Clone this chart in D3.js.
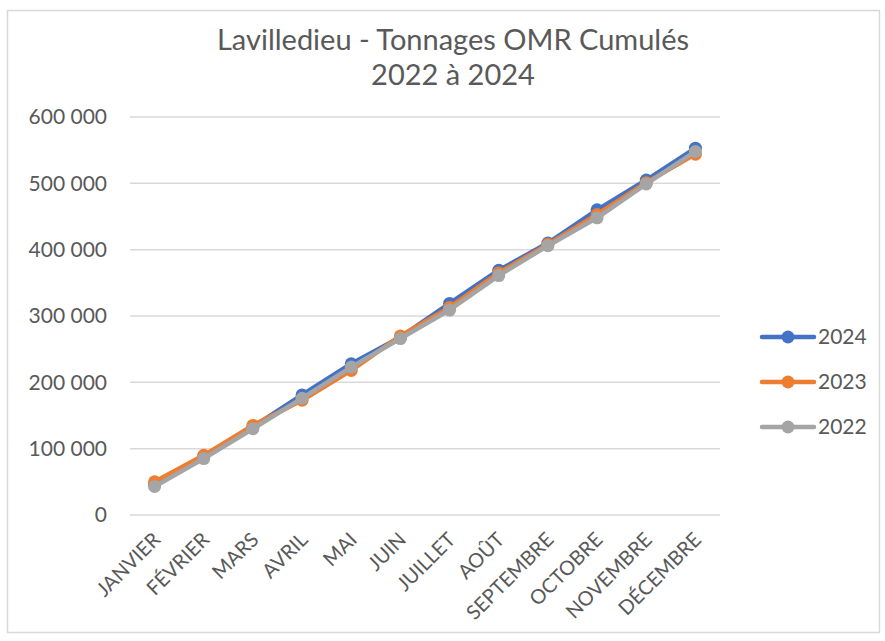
<!DOCTYPE html>
<html><head><meta charset="utf-8">
<script src="https://cdn.jsdelivr.net/npm/d3@7"></script>
<style>body{margin:0;background:#fff}svg{display:block}text{font-family:Lato,"Open Sans",sans-serif;fill:#595959}</style>
</head><body><svg id="c" width="885" height="641"></svg>
<script>
const months = ["JANVIER","FÉVRIER","MARS","AVRIL","MAI","JUIN","JUILLET","AOÛT","SEPTEMBRE","OCTOBRE","NOVEMBRE","DÉCEMBRE"];
const s2024 = [46000, 88000, 133000, 181000, 228000, 268000, 319000, 369000, 410000, 460000, 505000, 553000];
const s2023 = [50000, 90000, 135000, 173000, 218000, 270000, 313000, 365000, 408000, 453000, 501000, 544000];
const s2022 = [43000, 85000, 130000, 176000, 223000, 266000, 309000, 361000, 406000, 448000, 499000, 548000];
const yTicks = [0, 100000, 200000, 300000, 400000, 500000, 600000];
const seriesNames = ["2024","2023","2022"];
const seriesColors = ["#4472C4","#ED7D31","#A5A5A5"];
const titleLines = ["Lavilledieu - Tonnages OMR Cumulés","2022 à 2024"];

const series = [s2024, s2023, s2022].map((v,i)=>({name:seriesNames[i], color:seriesColors[i], values:v}));
const svg = d3.select("#c");
svg.append("rect").attr("x",7.5).attr("y",10.5).attr("width",872).attr("height",622)
  .attr("fill","#fff").attr("stroke","#d9d9d9").attr("stroke-width",1.5);

const x = d3.scaleBand().domain(months).range([130,720]);
const y = d3.scaleLinear().domain([0,600000]).range([515,117]);
const fmt = v => d3.format(",")(v).replace(/,/g," ");

svg.append("g").selectAll("line").data(yTicks).join("line")
  .attr("x1",130).attr("x2",720).attr("y1",d=>y(d)).attr("y2",d=>y(d))
  .attr("stroke","#d9d9d9").attr("stroke-width",1.5);

svg.append("g").selectAll("text").data(yTicks).join("text")
  .attr("x",107).attr("y",d=>y(d)).attr("dy","0.35em").attr("text-anchor","end")
  .style("font-size","21px").text(fmt);

svg.append("g").selectAll("text").data(months).join("text")
  .attr("transform",d=>`translate(${x(d)+x.bandwidth()/2+2},${536}) rotate(-45)`)
  .attr("text-anchor","end").attr("dy","0.35em")
  .style("font-size","20px").text(d=>d);

const line = d3.line().x((d,i)=>x(months[i])+x.bandwidth()/2).y(d=>y(d));
series.forEach(s=>{
  const g = svg.append("g");
  g.append("path").attr("d",line(s.values)).attr("fill","none")
    .attr("stroke",s.color).attr("stroke-width",4.5).attr("stroke-linejoin","round").attr("stroke-linecap","round");
  g.selectAll("circle").data(s.values).join("circle")
    .attr("cx",(d,i)=>x(months[i])+x.bandwidth()/2).attr("cy",d=>y(d)).attr("r",6.5)
    .attr("fill",s.color);
});

const lg = svg.append("g");
series.forEach((s,i)=>{
  const yy = 337 + i*45;
  lg.append("line").attr("x1",762).attr("x2",814).attr("y1",yy).attr("y2",yy)
    .attr("stroke",s.color).attr("stroke-width",4.5).attr("stroke-linecap","round");
  lg.append("circle").attr("cx",788).attr("cy",yy).attr("r",6.5).attr("fill",s.color);
  lg.append("text").attr("x",818).attr("y",yy).attr("dy","0.35em").style("font-size","21px").text(s.name);
});

svg.append("g").selectAll("text").data(titleLines).join("text")
  .attr("x",453).attr("y",(d,i)=>40+i*35).attr("dy","0.35em").attr("text-anchor","middle")
  .style("font-size","29px").text(d=>d);
</script></body></html>
